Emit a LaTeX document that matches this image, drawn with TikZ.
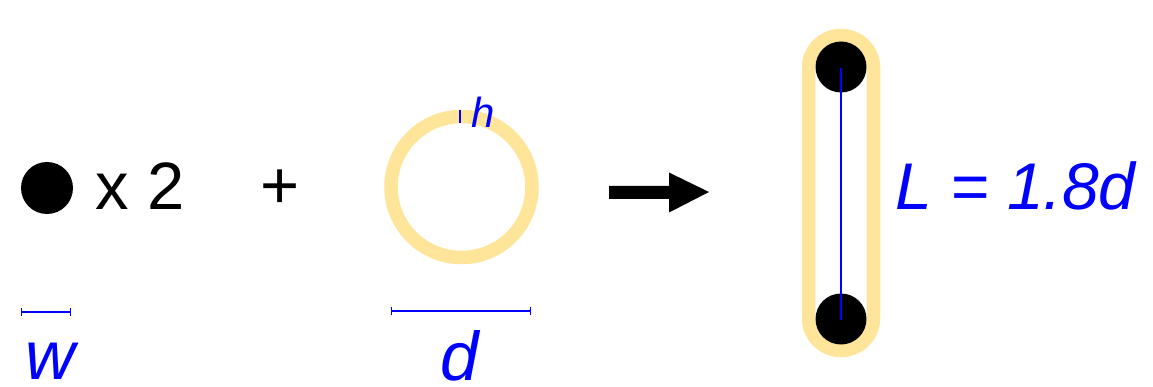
\documentclass[tikz,border=0pt]{standalone}
\usepackage{fontspec}
\setmainfont{Liberation Sans}
\definecolor{ringyellow}{RGB}{255,229,153}
\definecolor{dimblue}{RGB}{0,0,255}
\begin{document}
\begin{tikzpicture}[x=1pt,y=-1pt,
  ring/.style={draw=ringyellow,line width=13.5pt},
  ball/.style={fill=black},
  dim/.style={draw=dimblue,line width=1.2pt,|-|},
  lbl/.style={text=dimblue,font=\fontsize{#1}{#1}\selectfont\itshape,inner sep=0pt},
  blk/.style={text=black,font=\fontsize{#1}{#1}\selectfont,inner sep=0pt}]
\useasboundingbox (0,0) rectangle (1153,387);
\fill[white] (0,0) rectangle (1153,387);
% single ball
\fill[ball] (47,188) circle (26);
\node[blk=67,anchor=base west] (x2) at (95,210) {x 2};
\node[blk=67] (plus) at (280,189) {+};
% ring
\draw[ring] (461.5,187) circle (70.5);
\coordinate (ht) at (460,110);
\coordinate (hb) at (460,123);
\draw[draw=dimblue,line width=1.2pt] (ht) -- (hb);
\node[lbl=42,anchor=base west] (h) at (471,128) {h};
% dimension bars
\coordinate (w1) at (21,312);
\coordinate (w2) at (71,312);
\draw[dim] (w1) -- (w2);
\node[lbl=69,anchor=base west] (w) at (25,379) {w};
\coordinate (d1) at (391,311);
\coordinate (d2) at (531,311);
\draw[dim] (d1) -- (d2);
\node[lbl=69,anchor=base] (d) at (460,380) {d};
% arrow
\fill[black] (609,186) -- (669,186) -- (669,172.5) -- (709,192) -- (669,212.5) -- (669,199) -- (609,199) -- cycle;
% capsule
\draw[ring] (808.5,68) arc[start angle=180,end angle=360,radius=32.5] -- (873.5,318) arc[start angle=0,end angle=180,radius=32.5] -- cycle;
\fill[ball] (841,67) circle (25.5);
\fill[ball] (841,319) circle (25.5);
\coordinate (top) at (841,68);
\coordinate (bot) at (841,320);
\draw[draw=dimblue,line width=1.3pt] (top) -- (bot);
\node[lbl=66,anchor=base west] (L) at (895,210) {L = 1.8d};
\end{tikzpicture}
\end{document}
